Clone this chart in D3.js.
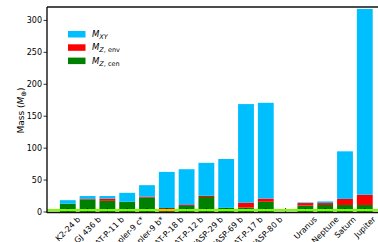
<!DOCTYPE html>
<html>
<head>
<meta charset="utf-8">
<script src="https://cdn.jsdelivr.net/npm/d3@7"></script>
<style>
  body { margin: 0; background: #fff; }
  svg { font-family: "DejaVu Sans", sans-serif; }
</style>
</head>
<body>
<svg id="chart" width="378" height="242"></svg>
<script>
// planet names, empty slot between exoplanets and solar system
const names = ["K2-24 b", "GJ 436 b", "HAT-P-11 b", "Kepler-9 c*", "Kepler-9 b*", "HAT-P-18 b",
  "HAT-P-12 b", "WASP-29 b", "WASP-69 b", "HAT-P-17 b", "WASP-80 b", "",
  "Uranus", "Neptune", "Saturn", "Jupiter"];
const mZcen = [13, 19.5, 17.5, 16, 22.5, 0, 9.5, 23.5, 6.5, 7, 16, null, 10, 11, 11, 11];
const mZenv = [0, 1, 3.5, 0, 1.5, 6.3, 1.5, 2, 0, 7.5, 5, null, 4, 3, 9.5, 16];
const mXY = [5.5, 4.5, 4, 14, 18, 56.5, 56, 51.5, 76.5, 154.5, 150, null, 1, 2.5, 74.5, 291];
const yTicks = [0, 50, 100, 150, 200, 250, 300];
const lineLevel = 3;

const svg = d3.select('#chart');
const mLeft = 47, mTop = 7, mBottom = 212;

const x = d3.scaleLinear().domain([-1.05, 16]).range([mLeft, mLeft + 17.05 * 19.8]);
const y = d3.scaleLinear().domain([0, 321]).range([mBottom, mTop]);
const bw = x(0.8) - x(0);

const data = names.map((n, i) => ({i, n, cen: mZcen[i], env: mZenv[i], xy: mXY[i]}))
  .filter(d => d.cen !== null);

const g = svg.append('g');
// core
g.selectAll('.cen').data(data).join('rect')
  .attr('class', 'cen')
  .attr('x', d => x(d.i) - bw / 2).attr('width', bw)
  .attr('y', d => y(d.cen)).attr('height', d => y(0) - y(d.cen))
  .attr('fill', '#008000');
// envelope metals
g.selectAll('.env').data(data).join('rect')
  .attr('class', 'env')
  .attr('x', d => x(d.i) - bw / 2).attr('width', bw)
  .attr('y', d => y(d.cen + d.env)).attr('height', d => y(d.cen) - y(d.cen + d.env))
  .attr('fill', '#ff0000');
// H/He
g.selectAll('.xy').data(data).join('rect')
  .attr('class', 'xy')
  .attr('x', d => x(d.i) - bw / 2).attr('width', bw)
  .attr('y', d => y(d.cen + d.env + d.xy)).attr('height', d => y(d.cen + d.env) - y(d.cen + d.env + d.xy))
  .attr('fill', '#00bfff');

// x ticks pointing in
svg.append('g').selectAll('line').data(names.map((n, i) => i)).join('line')
  .attr('x1', d => x(d)).attr('x2', d => x(d))
  .attr('y1', mBottom).attr('y2', mBottom - 4)
  .attr('stroke', '#000').attr('stroke-width', 0.8);

// horizontal line
svg.append('line')
  .attr('x1', mLeft).attr('x2', 378)
  .attr('y1', y(lineLevel)).attr('y2', y(lineLevel))
  .attr('stroke', '#7cfc00').attr('stroke-width', 2.2);

// spines
svg.append('line').attr('x1', mLeft).attr('x2', 378).attr('y1', mTop).attr('y2', mTop)
  .attr('stroke', '#111').attr('stroke-width', 1.4);
svg.append('line').attr('x1', mLeft).attr('x2', 378).attr('y1', mBottom + 0.5).attr('y2', mBottom + 0.5)
  .attr('stroke', '#111').attr('stroke-width', 1.4);
svg.append('line').attr('x1', mLeft).attr('x2', mLeft).attr('y1', mTop).attr('y2', mBottom + 1)
  .attr('stroke', '#111').attr('stroke-width', 1.4);

// y axis ticks + labels
const yg = svg.append('g');
yg.selectAll('line').data(yTicks).join('line')
  .attr('x1', mLeft - 3.5).attr('x2', mLeft)
  .attr('y1', d => y(d)).attr('y2', d => y(d))
  .attr('stroke', '#000').attr('stroke-width', 0.8);
yg.selectAll('text').data(yTicks).join('text')
  .attr('x', mLeft - 5).attr('y', d => y(d))
  .attr('dy', '0.35em')
  .attr('text-anchor', 'end')
  .style('font-size', '8px')
  .text(d => d);

// y label
const yl = svg.append('text')
  .attr('transform', `translate(24,${(mTop + mBottom) / 2 + 1}) rotate(-90)`)
  .attr('text-anchor', 'middle')
  .style('font-size', '9px');
yl.append('tspan').text('Mass (');
yl.append('tspan').style('font-style', 'italic').text('M');
yl.append('tspan').attr('dy', 2).style('font-size', '7px').text('⊕');
yl.append('tspan').attr('dy', -2).text(')');

// x labels, rotated 45, centred on tick
const xl = svg.append('g');
names.forEach((n, i) => {
  if (!n) return;
  const t = xl.append('text')
    .attr('text-anchor', 'middle')
    .attr('dy', '0.35em')
    .style('font-size', '8px')
    .text(n);
  const w = t.node().getComputedTextLength();
  const h = 8;
  const bb = (w + h) * Math.SQRT1_2;
  t.attr('transform', `translate(${x(i)},${mBottom + 3 + bb / 2}) rotate(-45)`);
});

// legend
const legend = [
  {c: '#00bfff', sub: [['XY', true]]},
  {c: '#ff0000', sub: [['Z', true], [', env', false]]},
  {c: '#008000', sub: [['Z', true], [', cen', false]]}
];
const lg = svg.append('g');
legend.forEach((d, k) => {
  const yy = 31 + k * 13.3;
  lg.append('rect').attr('x', 68).attr('y', yy).attr('width', 17.5).attr('height', 6.5).attr('fill', d.c);
  const t = lg.append('text').attr('x', 92).attr('y', yy + 6).style('font-size', '8.5px');
  t.append('tspan').style('font-style', 'italic').text('M');
  d.sub.forEach((s, j) => {
    const sp = t.append('tspan').style('font-size', '6.5px').text(s[0]);
    if (j === 0) sp.attr('dy', 2);
    if (s[1]) sp.style('font-style', 'italic');
  });
});
</script>
</body>
</html>
